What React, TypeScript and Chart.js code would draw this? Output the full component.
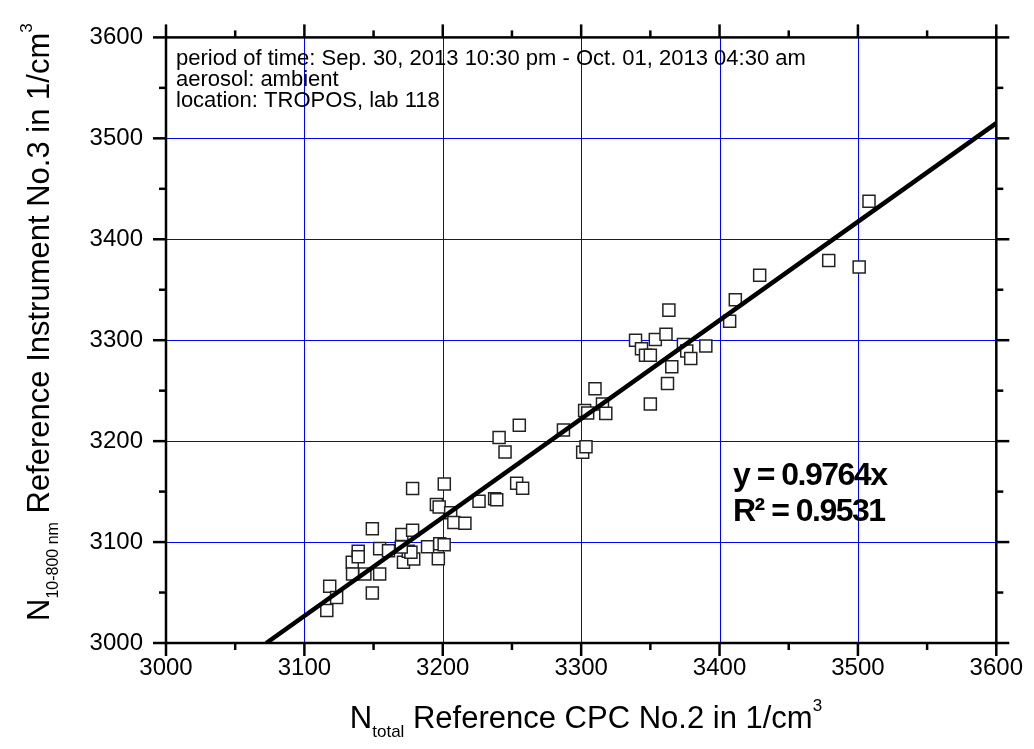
import React, { useEffect, useRef } from "react";
import { Chart, registerables } from "chart.js";

Chart.register(...registerables);

// Reference CPC No.2 (x) values in 1/cm^3
const cpcValues = [
  3116.2, 3118.3, 3123.3, 3134.6, 3134.8, 3138.9, 3138.9, 3143.7, 3149.1, 3149.1,
  3154.4, 3154.4, 3160.8, 3170.4, 3171.6, 3175.1, 3178.2, 3179.0, 3178.2, 3189.0,
  3195.4, 3197.4, 3196.8, 3197.8, 3201.0, 3201.1, 3205.7, 3208.0, 3216.0, 3226.2,
  3237.5, 3239.0, 3240.7, 3245.0, 3253.4, 3255.3, 3257.7, 3287.2, 3301.1, 3303.5,
  3302.5, 3304.7, 3310.0, 3315.4, 3317.8, 3339.3, 3343.6, 3346.5, 3350.0, 3350.0,
  3353.6, 3361.3, 3362.4, 3363.4, 3365.5, 3373.9, 3376.3, 3379.2, 3390.1, 3407.3,
  3411.4, 3429.0, 3478.9, 3500.9, 3508.0, 3177.0, 3170.0,
];
// Reference Instrument No.3 (y) values in 1/cm^3
const instrumentValues = [
  3032.3, 3056.3, 3045.0, 3079.9, 3068.3, 3091.0, 3085.4, 3068.3, 3113.3, 3049.5,
  3068.3, 3093.5, 3091.3, 3107.5, 3079.9, 3091.0, 3111.7, 3083.2, 3153.1, 3095.4,
  3137.2, 3134.7, 3083.5, 3098.3, 3097.4, 3157.6, 3129.0, 3119.4, 3118.7, 3140.5,
  3142.9, 3142.0, 3203.6, 3189.3, 3158.3, 3215.8, 3153.4, 3211.0, 3189.0, 3194.5,
  3230.4, 3227.9, 3252.0, 3236.9, 3227.5, 3300.0, 3291.6, 3285.1, 3285.1, 3236.9,
  3300.7, 3305.8, 3257.0, 3329.8, 3273.8, 3295.8, 3289.3, 3281.8, 3294.2, 3318.7,
  3340.1, 3364.4, 3379.0, 3372.5, 3437.6, 3090.0, 3095.0,
];

const fitSlope = 0.9764;
const fitR2 = 0.9531;
const axisMin = 3000;
const axisMax = 3600;
const majorStep = 100;
const minorStep = 50;

const infoLines = [
  "period of time: Sep. 30, 2013 10:30 pm - Oct. 01, 2013 04:30 am",
  "aerosol: ambient",
  "location: TROPOS, lab 118",
];

const FONT = "'Liberation Sans', Arial, Helvetica, sans-serif";

type Part = { t: string; size: number; dy: number; bold?: boolean };

function drawRich(ctx: CanvasRenderingContext2D, parts: Part[], x: number, y: number) {
  let cx = x;
  for (const p of parts) {
    ctx.font = `${p.bold ? "bold " : ""}${p.size}px ${FONT}`;
    ctx.fillText(p.t, cx, y + p.dy);
    cx += ctx.measureText(p.t).width;
  }
  return cx - x;
}
function measureRich(ctx: CanvasRenderingContext2D, parts: Part[]) {
  let w = 0;
  for (const p of parts) {
    ctx.font = `${p.bold ? "bold " : ""}${p.size}px ${FONT}`;
    w += ctx.measureText(p.t).width;
  }
  return w;
}

const decorPlugin = {
  id: "decor",
  beforeDatasetsDraw(chart: any) {
    const { ctx, chartArea: a, scales } = chart;
    ctx.save();
    ctx.strokeStyle = "#0000ff";
    ctx.lineWidth = 1;
    for (let v = axisMin + majorStep; v < axisMax; v += majorStep) {
      const px = Math.round(scales.x.getPixelForValue(v)) + 0.5;
      ctx.beginPath();
      ctx.moveTo(px, a.top);
      ctx.lineTo(px, a.bottom);
      ctx.stroke();
      const py = Math.round(scales.y.getPixelForValue(v)) + 0.5;
      ctx.beginPath();
      ctx.moveTo(a.left, py);
      ctx.lineTo(a.right, py);
      ctx.stroke();
    }
    ctx.restore();
  },
  afterDatasetsDraw(chart: any) {
    const { ctx, chartArea: a, scales } = chart;
    const xs = scales.x;
    const ys = scales.y;
    ctx.save();
    ctx.strokeStyle = "#000";
    ctx.lineWidth = 2.5;
    ctx.lineCap = "butt";
    ctx.strokeRect(a.left, a.top, a.right - a.left, a.bottom - a.top);
    const seg = (x1: number, y1: number, x2: number, y2: number) => {
      ctx.beginPath();
      ctx.moveTo(x1, y1);
      ctx.lineTo(x2, y2);
      ctx.stroke();
    };
    for (let v = axisMin; v <= axisMax; v += minorStep) {
      const len = v % majorStep === 0 ? 13 : 7;
      const px = xs.getPixelForValue(v);
      seg(px, a.bottom, px, a.bottom + len);
      seg(px, a.top, px, a.top - len);
      const py = ys.getPixelForValue(v);
      seg(a.left, py, a.left - len, py);
      seg(a.right, py, a.right + len, py);
    }

    ctx.fillStyle = "#000";
    ctx.textAlign = "left";
    ctx.textBaseline = "alphabetic";
    // info text
    ctx.font = `22px ${FONT}`;
    infoLines.forEach((l, i) => ctx.fillText(l, a.left + 10, a.top + 28 + i * 21));

    // equation
    const ex = 733;
    (ctx as any).letterSpacing = "-1.5px";
    ctx.font = `bold 32px ${FONT}`;
    ctx.fillText(`y = ${fitSlope.toFixed(4)}x`, ex, 485);
    ctx.fillText(`R² = ${fitR2.toFixed(4)}`, ex, 521);
    (ctx as any).letterSpacing = "0px";

    // x title
    const xParts: Part[] = [
      { t: "N", size: 31, dy: 0 },
      { t: "total", size: 17, dy: 9 },
      { t: " Reference CPC No.2 in 1/cm", size: 31, dy: 0 },
      { t: "3", size: 17, dy: -17 },
    ];
    const xw = measureRich(ctx, xParts);
    drawRich(ctx, xParts, 586 - xw / 2, 728);

    // y title
    const yParts: Part[] = [
      { t: "N", size: 31, dy: 0 },
      { t: "10-800 nm", size: 16, dy: 9 },
      { t: " Reference Instrument No.3 in 1/cm", size: 31, dy: 0 },
      { t: "3", size: 17, dy: -17 },
    ];
    ctx.save();
    ctx.translate(49, 621);
    ctx.rotate(-Math.PI / 2);
    drawRich(ctx, yParts, 0, 0);
    ctx.restore();
    ctx.restore();
  },
};

export default function App() {
  const ref = useRef<HTMLCanvasElement | null>(null);
  useEffect(() => {
    if (!ref.current) return;
    const points = cpcValues.map((x, i) => ({ x, y: instrumentValues[i] }));
    const fitLine = [
      { x: axisMin / fitSlope, y: axisMin },
      { x: axisMax, y: axisMax * fitSlope },
    ];
    const chart = new Chart(ref.current, {
      type: "scatter",
      data: {
        datasets: [
          {
            type: "line",
            data: fitLine,
            borderColor: "#000",
            borderWidth: 4.5,
            pointRadius: 0,
            fill: false,
            order: 0,
          } as any,
          {
            data: points,
            pointStyle: "rect",
            pointRadius: 8.5,
            pointBorderWidth: 1.5,
            pointBorderColor: "#222",
            pointBackgroundColor: "#fff",
            order: 1,
          } as any,
        ],
      },
      options: {
        animation: false,
        responsive: false,
        events: [],
        layout: { padding: { top: 25, right: 31, left: 0, bottom: 0 } },
        plugins: { legend: { display: false }, tooltip: { enabled: false } },
        scales: {
          x: {
            type: "linear",
            min: axisMin,
            max: axisMax,
            afterFit: (s: any) => {
              s.height = 106;
            },
            border: { display: false },
            grid: { display: false, drawTicks: false },
            ticks: {
              stepSize: majorStep,
              padding: 11,
              color: "#000",
              font: { family: FONT, size: 24 },
              callback: (v: any) => String(v),
            },
          },
          y: {
            type: "linear",
            min: axisMin,
            max: axisMax,
            afterFit: (s: any) => {
              s.width = 166;
            },
            border: { display: false },
            grid: { display: false, drawTicks: false },
            ticks: {
              stepSize: majorStep,
              padding: 23,
              color: "#000",
              font: { family: FONT, size: 24 },
              callback: (v: any) => String(v),
            },
          },
        },
      },
      plugins: [decorPlugin],
    });
    return () => chart.destroy();
  }, []);
  return (
    <div style={{ position: "absolute", left: 0, top: 0, width: 1034, height: 749, background: "#fff" }}>
      <canvas ref={ref} width={1034} height={749} style={{ display: "block" }} />
    </div>
  );
}
